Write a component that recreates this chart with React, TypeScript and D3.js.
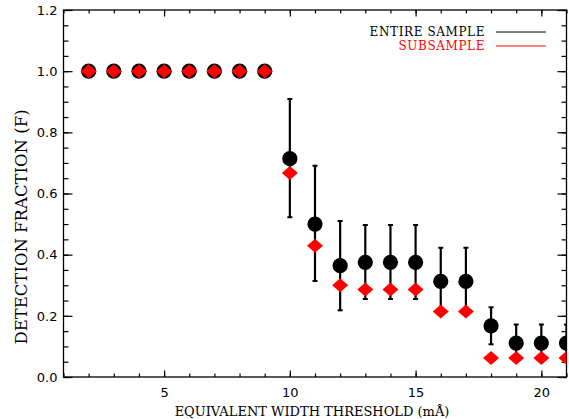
import React, { useEffect, useRef } from "react";
import * as d3 from "d3";

// equivalent width thresholds (mA)
const THRESHOLDS = [2, 3, 4, 5, 6, 7, 8, 9, 10, 11, 12, 13, 14, 15, 16, 17, 18, 19, 20, 21];

// entire sample: detection fraction and error bar ends
const ENTIRE = [1, 1, 1, 1, 1, 1, 1, 1, 0.714, 0.5, 0.364, 0.375, 0.375, 0.375, 0.3125, 0.3125, 0.167, 0.111, 0.111, 0.111];
const ENTIRE_LOW = [null, null, null, null, null, null, null, null, 0.522, 0.314, 0.218, 0.255, 0.255, 0.255, 0.205, 0.205, 0.107, 0.055, 0.055, 0.055];
const ENTIRE_HIGH = [null, null, null, null, null, null, null, null, 0.909, 0.691, 0.51, 0.497, 0.497, 0.497, 0.423, 0.423, 0.228, 0.172, 0.172, 0.172];

// subsample
const SUBSAMPLE = [1, 1, 1, 1, 1, 1, 1, 1, 0.667, 0.429, 0.3, 0.286, 0.286, 0.286, 0.214, 0.214, 0.0625, 0.0625, 0.0625, 0.0625];

const X_TICKS = [5, 10, 15, 20];
const Y_TICKS = [0, 0.2, 0.4, 0.6, 0.8, 1.0, 1.2];

const LEGEND = [
    { label: "ENTIRE SAMPLE", color: "#000000" },
    { label: "SUBSAMPLE", color: "#ff0000" },
];

const App = () => {
    const ref = useRef<SVGSVGElement>(null);

    useEffect(() => {
        const W = 569;
        const H = 419;
        const left = 63.5, right = 566.5, top = 10, bottom = 377;
        const labelFont = "'DejaVu Serif', serif";
        const tickFont = "'DejaVu Sans', sans-serif";

        const svg = d3.select(ref.current).html("");
        svg.attr("width", W).attr("height", H);

        const x = d3.scaleLinear().domain([1, 21]).range([left, right]);
        const y = d3.scaleLinear().domain([0, 1.2]).range([bottom, top]);

        svg.append("rect").attr("width", W).attr("height", H).attr("fill", "white");

        svg.append("defs")
            .append("clipPath")
            .attr("id", "plotclip")
            .append("rect")
            .attr("x", left)
            .attr("y", top)
            .attr("width", right - left)
            .attr("height", bottom - top);

        const xMinor = d3.range(1, 22, 1);
        const yMinor = d3.range(0, 1.2001, 0.05);

        const styleAxis = (g: any) => {
            g.select(".domain").remove();
            g.selectAll("line").attr("stroke", "#000").attr("stroke-width", 1.2);
            g.selectAll("text")
                .attr("font-family", tickFont)
                .attr("font-size", 13)
                .attr("fill", "#000");
        };

        // bottom axis
        svg.append("g")
            .attr("transform", `translate(0,${bottom})`)
            .call(d3.axisBottom(x).tickValues(xMinor).tickSize(-3.5).tickFormat(() => ""))
            .call(styleAxis);
        svg.append("g")
            .attr("transform", `translate(0,${bottom})`)
            .call(d3.axisBottom(x).tickValues(X_TICKS).tickSize(-6.5).tickFormat(d3.format("d")))
            .call(styleAxis)
            .call((g: any) => g.selectAll("text").attr("dy", "0.71em").attr("y", 11));

        // top axis
        svg.append("g")
            .attr("transform", `translate(0,${top})`)
            .call(d3.axisTop(x).tickValues(xMinor).tickSize(-3.5).tickFormat(() => ""))
            .call(styleAxis);
        svg.append("g")
            .attr("transform", `translate(0,${top})`)
            .call(d3.axisTop(x).tickValues(X_TICKS).tickSize(-6.5).tickFormat(() => ""))
            .call(styleAxis);

        // left axis
        svg.append("g")
            .attr("transform", `translate(${left},0)`)
            .call(d3.axisLeft(y).tickValues(yMinor).tickSize(-5).tickFormat(() => ""))
            .call(styleAxis);
        svg.append("g")
            .attr("transform", `translate(${left},0)`)
            .call(d3.axisLeft(y).tickValues(Y_TICKS).tickSize(-9).tickFormat(d3.format(".1f")))
            .call(styleAxis)
            .call((g: any) => g.selectAll("text").attr("x", -6));

        // right axis
        svg.append("g")
            .attr("transform", `translate(${right},0)`)
            .call(d3.axisRight(y).tickValues(yMinor).tickSize(-5).tickFormat(() => ""))
            .call(styleAxis);
        svg.append("g")
            .attr("transform", `translate(${right},0)`)
            .call(d3.axisRight(y).tickValues(Y_TICKS).tickSize(-9).tickFormat(() => ""))
            .call(styleAxis);

        // frame
        svg.append("rect")
            .attr("x", left)
            .attr("y", top)
            .attr("width", right - left)
            .attr("height", bottom - top)
            .attr("fill", "none")
            .attr("stroke", "#000")
            .attr("stroke-width", 1.3);

        const plot = svg.append("g").attr("clip-path", "url(#plotclip)");

        const pts = THRESHOLDS.map((t, i) => ({
            t,
            v: ENTIRE[i],
            lo: ENTIRE_LOW[i],
            hi: ENTIRE_HIGH[i],
            s: SUBSAMPLE[i],
        }));
        const withErr = pts.filter((d) => d.lo !== null && d.hi !== null);

        // error bars
        plot.selectAll("line.err")
            .data(withErr)
            .join("line")
            .attr("class", "err")
            .attr("x1", (d) => x(d.t))
            .attr("x2", (d) => x(d.t))
            .attr("y1", (d) => y(d.lo as number))
            .attr("y2", (d) => y(d.hi as number))
            .attr("stroke", "#000")
            .attr("stroke-width", 2.2);

        const caps = withErr.flatMap((d) => [
            { t: d.t, v: d.lo as number },
            { t: d.t, v: d.hi as number },
        ]);
        plot.selectAll("line.cap")
            .data(caps)
            .join("line")
            .attr("class", "cap")
            .attr("x1", (d) => x(d.t) - 2.5)
            .attr("x2", (d) => x(d.t) + 2.5)
            .attr("y1", (d) => y(d.v))
            .attr("y2", (d) => y(d.v))
            .attr("stroke", "#000")
            .attr("stroke-width", 2);

        // entire sample circles
        plot.selectAll("circle.entire")
            .data(pts)
            .join("circle")
            .attr("class", "entire")
            .attr("cx", (d) => x(d.t))
            .attr("cy", (d) => y(d.v))
            .attr("r", 7.6)
            .attr("fill", "#000");

        // subsample diamonds
        const diamond = "M0,-7L8,0L0,7L-8,0Z";
        plot.selectAll("path.sub")
            .data(pts)
            .join("path")
            .attr("class", "sub")
            .attr("d", diamond)
            .attr("transform", (d) => `translate(${x(d.t)},${y(d.s)})`)
            .attr("fill", "#ff0000");

        // legend
        const legend = svg.append("g");
        LEGEND.forEach((item, i) => {
            const ly = 32 + i * 14;
            legend.append("text")
                .attr("x", 485)
                .attr("y", ly + 4)
                .attr("text-anchor", "end")
                .attr("font-family", labelFont)
                .attr("font-size", 12)
                .attr("letter-spacing", 0.6)
                .attr("fill", item.color)
                .text(item.label);
            legend.append("line")
                .attr("x1", 496)
                .attr("x2", 546)
                .attr("y1", ly)
                .attr("y2", ly)
                .attr("stroke", item.color)
                .attr("stroke-width", 1);
        });

        // axis titles
        svg.append("text")
            .attr("x", 312)
            .attr("y", 416)
            .attr("text-anchor", "middle")
            .attr("font-family", labelFont)
            .attr("font-size", 13)
            .attr("fill", "#000")
            .text("EQUIVALENT WIDTH THRESHOLD (mÅ)");

        svg.append("text")
            .attr("transform", "translate(27,227) rotate(-90)")
            .attr("text-anchor", "middle")
            .attr("font-family", labelFont)
            .attr("font-size", 16.5)
            .attr("fill", "#000")
            .text("DETECTION FRACTION (F)");
    }, []);

    return (
        <svg
            ref={ref}
            style={{ position: "absolute", left: 0, top: 0, display: "block" }}
        />
    );
};

export default App;
